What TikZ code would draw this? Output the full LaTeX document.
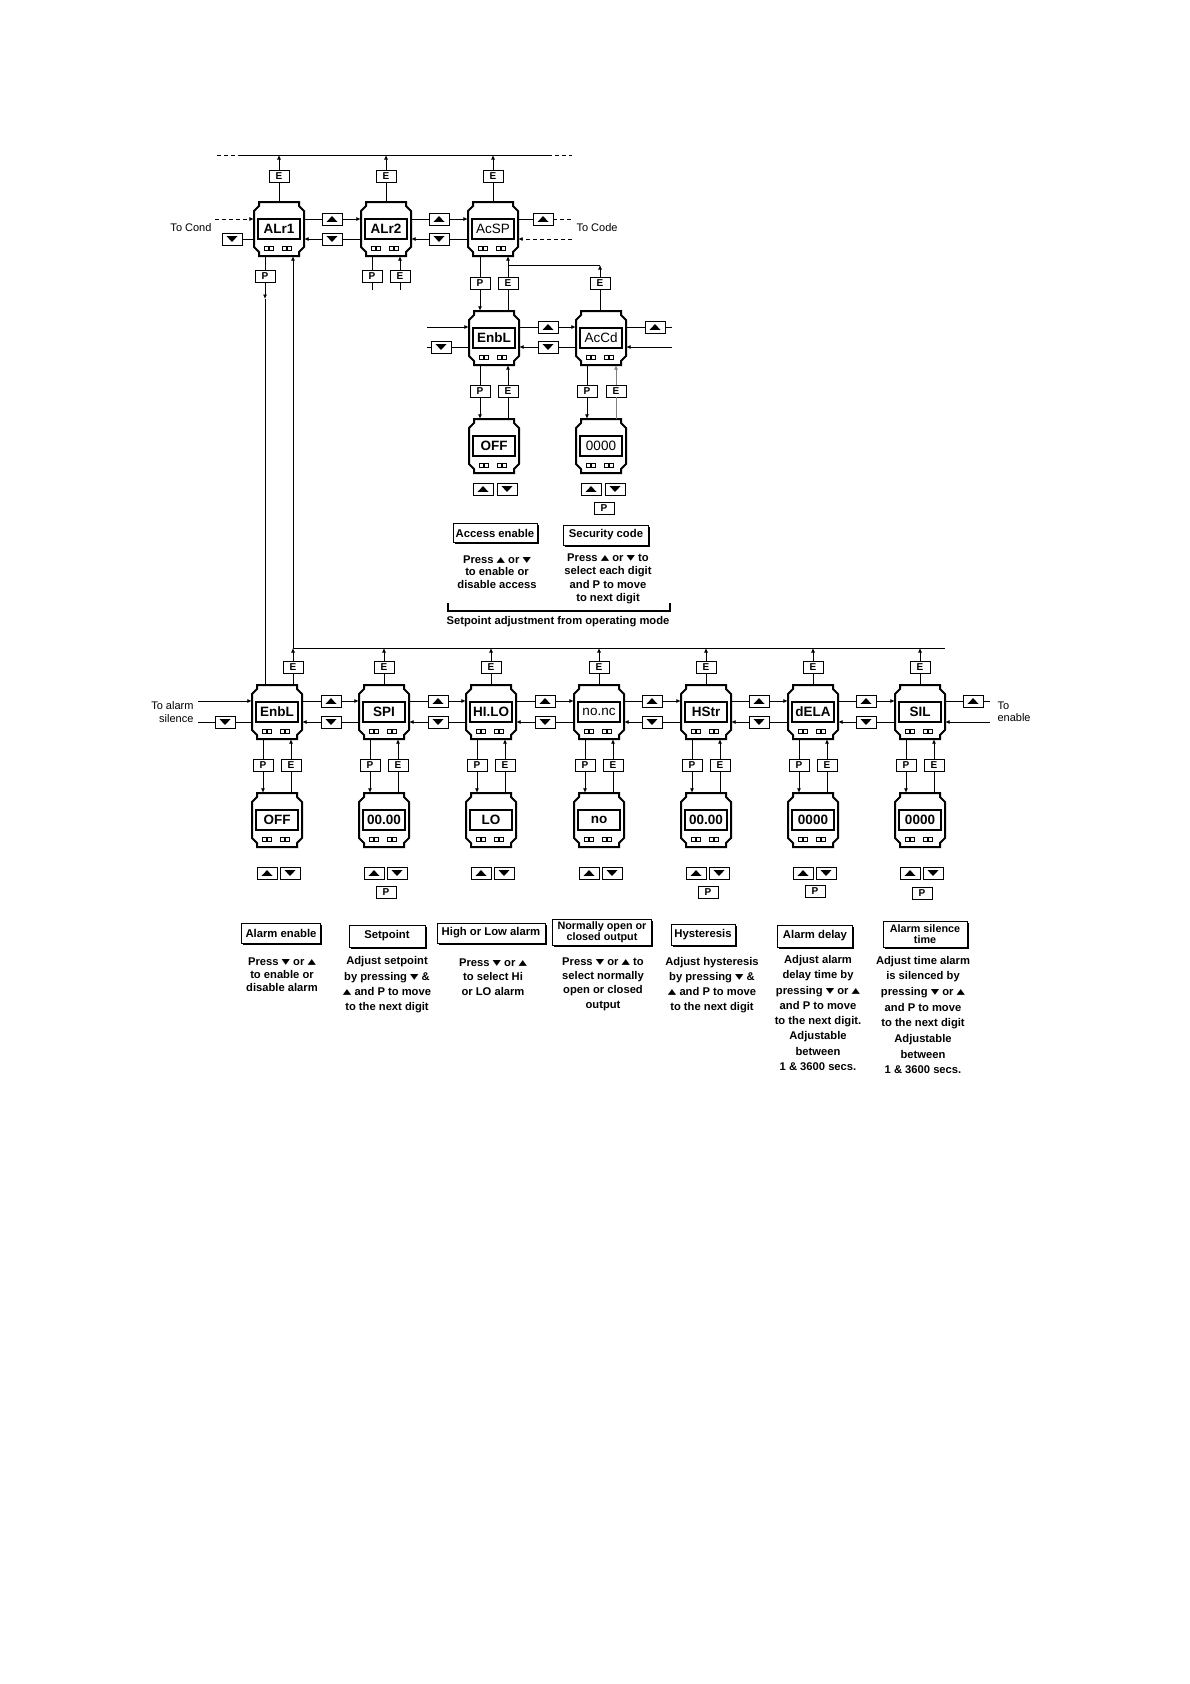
\documentclass[tikz,border=0pt]{standalone}
\usepackage{fontspec}
\setmainfont{Liberation Sans}
\newfontfamily\symfont{DejaVu Sans}
\usetikzlibrary{arrows.meta,shadows}

\newcommand{\tup}{{\symfont\scalebox{1.5}[1.05]{▴}}}
\newcommand{\tdn}{{\symfont\scalebox{1.5}[1.05]{▾}}}

\tikzset{
  casing/.style={line width=2pt},
  window/.style={line width=1.1pt},
  wire/.style={line width=0.8pt},
  into/.style={wire, -{Latex[length=4.5pt,width=4pt]}},
  keybox/.style={draw, fill=white, line width=0.8pt, minimum width=20pt,
    minimum height=12pt, inner sep=0pt, font=\bfseries\fontsize{10}{10}\selectfont,
    drop shadow={shadow xshift=1.4pt, shadow yshift=-1.4pt, opacity=1, fill=black}},
  upkey/.style={keybox, path picture={\fill[black] ([xshift=-5.5pt,yshift=-2.8pt]path picture bounding box.center)
    -- ++(11pt,0pt) -- ++(-5.5pt,5.6pt) -- cycle;}},
  dnkey/.style={keybox, path picture={\fill[black] ([xshift=-5.5pt,yshift=2.8pt]path picture bounding box.center)
    -- ++(11pt,0pt) -- ++(-5.5pt,-5.6pt) -- cycle;}},
  unitbox/.style={minimum width=50pt, minimum height=54pt, inner sep=0pt,
    font=\bfseries\fontsize{13.5}{13.5}\selectfont},
  capbox/.style={draw, fill=white, line width=0.8pt, inner sep=0pt, align=center,
    font=\bfseries\fontsize{11.3}{12}\selectfont,
    drop shadow={shadow xshift=1.6pt, shadow yshift=-1.6pt, opacity=1, fill=black}},
  notetext/.style={align=center, font=\bfseries\fontsize{11.2}{#1}\selectfont},
  notetext/.default=14,
  sidetext/.style={font=\fontsize{11}{12.5}\selectfont},
}

% one controller face: name, x, y, display text
\newcommand{\unitat}[4]{%
  \node[unitbox] (#1) at (#2,#3) {#4};
  \begin{scope}[shift={(#2,#3)}]
    \draw[casing] (-20,-27) -- (20,-27) -- (20,-23) -- (25,-18) -- (25,18)
      -- (20,23) -- (20,27) -- (-20,27) -- (-20,23) -- (-25,18) -- (-25,-18)
      -- (-20,-23) -- cycle;
    \draw[window] (-21,-10) rectangle (21,10);
    \foreach \sx in {-15,-9.5,3,8.5} \draw[line width=0.7pt] (\sx,17) rectangle ++(4,4);
  \end{scope}}

\begin{document}
\begin{tikzpicture}[x=1pt, y=-1pt]
    \useasboundingbox (0,0) rectangle (1190,1684);

    % alarm menu row
    \unitat{alr1}{279}{229}{ALr1}
    \unitat{alr2}{386}{229}{ALr2}
    \unitat{acsp}{493}{229}{\mdseries AcSP}
    \node[keybox] (ea1) at (279,176) {E};
    \node[keybox] (ea2) at (386,176) {E};
    \node[keybox] (ea3) at (493,176) {E};
    \coordinate (busa0) at (217,155);
    \coordinate (busal) at (240,155);
    \coordinate (busar) at (548,155);
    \coordinate (busa9) at (572,155);
    \draw[wire] (busal) -- (busar);
    \draw[wire, dash pattern=on 4pt off 3pt] (busa0) -- (busal) (busar) -- (busa9);
    \draw[into] (alr1.north) -- (ea1) -- (alr1 |- busal);
    \draw[into] (alr2.north) -- (ea2) -- (alr2 |- busal);
    \draw[into] (acsp.north) -- (ea3) -- (acsp |- busal);

    \node[upkey] (ua12) at (332,219) {};
    \node[dnkey] (da12) at (332,239) {};
    \node[upkey] (ua23) at (439,219) {};
    \node[dnkey] (da23) at (439,239) {};
    \node[dnkey] (da01) at (232,239) {};
    \node[upkey] (ua34) at (543,219) {};
    \draw[into] (alr1.east |- ua12) -- (ua12) -- (alr2.west |- ua12);
    \draw[into] (alr2.west |- da12) -- (da12) -- (alr1.east |- da12);
    \draw[into] (alr2.east |- ua23) -- (ua23) -- (acsp.west |- ua23);
    \draw[into] (acsp.west |- da23) -- (da23) -- (alr2.east |- da23);
    \coordinate (cond1) at (215,219);
    \draw[into, dash pattern=on 4pt off 3pt] (cond1) -- (alr1.west |- cond1);
    \draw[wire] (da01) -- (alr1.west |- da01);
    \node[sidetext, anchor=east] (tocond) at (215,228) {To Cond};
    \coordinate (code1) at (572,219);
    \coordinate (code2) at (572,239);
    \draw[wire] (acsp.east |- ua34) -- (ua34);
    \draw[wire, dash pattern=on 4pt off 3pt] (ua34) -- (code1);
    \draw[into, dash pattern=on 4pt off 3pt] (code2) -- (acsp.east |- code2);
    \node[sidetext, anchor=west] (tocode) at (573,228) {To Code};

    % access row
    \unitat{enblb}{494}{338}{EnbL}
    \unitat{accd}{601}{338}{\mdseries AcCd}
    \unitat{offb}{494}{446}{OFF}
    \unitat{codeb}{601}{446}{\mdseries 0000}
    \node[keybox] (pa3) at (480,283) {P};
    \node[keybox] (ea3b) at (508,283) {E};
    \node[keybox] (eb2) at (600,283) {E};
    \coordinate (joinb) at (508,265);
    \coordinate (cornb) at (600,265);
    \draw[into] (acsp.south -| pa3) -- (pa3) -- (enblb.north -| pa3);
    \draw[into] (enblb.north -| ea3b) -- (ea3b) -- (acsp.south -| ea3b);
    \draw[into] (accd.north -| eb2) -- (eb2) -- (cornb);
    \draw[wire] (cornb) -- (joinb);

    \coordinate (lb1) at (427,327);
    \coordinate (lb2) at (427,347);
    \coordinate (rb1) at (672,327);
    \coordinate (rb2) at (672,347);
    \node[dnkey] (db0) at (441,347) {};
    \node[upkey] (ub12) at (548,327) {};
    \node[dnkey] (db12) at (548,347) {};
    \node[upkey] (ub23) at (655,327) {};
    \draw[into] (lb1) -- (enblb.west |- lb1);
    \draw[wire] (lb2) -- (db0) -- (enblb.west |- db0);
    \draw[into] (enblb.east |- ub12) -- (ub12) -- (accd.west |- ub12);
    \draw[into] (accd.west |- db12) -- (db12) -- (enblb.east |- db12);
    \draw[wire] (accd.east |- ub23) -- (ub23) -- (rb1);
    \draw[into] (rb2) -- (accd.east |- rb2);

    \node[keybox] (pb1) at (480,391) {P};
    \node[keybox] (eb1) at (508,391) {E};
    \node[keybox] (pb2) at (587,391) {P};
    \node[keybox] (eb3) at (616,391) {E};
    \draw[into] (enblb.south -| pb1) -- (pb1) -- (offb.north -| pb1);
    \draw[into] (offb.north -| eb1) -- (eb1) -- (enblb.south -| eb1);
    \draw[into] (accd.south -| pb2) -- (pb2) -- (codeb.north -| pb2);
    \draw[into, gray] (codeb.north -| eb3) -- (eb3) -- (accd.south -| eb3);
    \node[upkey] (ukb1) at (483,489) {};
    \node[dnkey] (dkb1) at (507,489) {};
    \node[upkey] (ukb2) at (591,489) {};
    \node[dnkey] (dkb2) at (615,489) {};
    \node[keybox] (pkb2) at (604,508) {P};

    \node[capbox, minimum width=84pt, minimum height=19pt] (capacc) at (495,533) {Access enable};
    \node[capbox, minimum width=85pt, minimum height=20pt] (capsec) at (606,535) {Security code};
    \node[notetext=12.5] (txtacc) at (497,572) {Press \tup{} or \tdn\\to enable or\\disable access};
    \node[notetext=13.5] (txtsec) at (608,579) {Press \tup{} or \tdn{} to\\select each digit\\and P to move\\to next digit};
    \coordinate (brl) at (448,611);
    \coordinate (brr) at (670,611);
    \draw[line width=1.4pt] (448,603) -- (brl) -- (brr) -- (670,603);
    \node[notetext] (txtset) at (558,622) {Setpoint adjustment from operating mode};

    % alarm settings row
    \coordinate (buscl) at (293,648);
    \coordinate (buscr) at (945,648);
    \draw[wire] (buscl) -- (buscr);
    \foreach \n/\cx/\ex/\shown/\val in {enbl/277/293/EnbL/OFF, spi/384/384/SPI/00.00,
        hilo/491/491/HI.LO/LO, nonc/599/599/\mdseries no.nc/no, hstr/706/706/HStr/00.00,
        dela/813/813/dELA/0000, sil/920/920/SIL/0000}{
      \unitat{\n}{\cx}{712}{\shown}
      \unitat{v\n}{\cx}{820}{\val}
      \node[keybox] (t\n) at (\ex,667) {E};
      \node[keybox] (p\n) at (\cx-14,765) {P};
      \node[keybox] (e\n) at (\cx+14,765) {E};
      \draw[into] (\n.north -| t\n) -- (t\n) -- (t\n |- buscl);
      \draw[into] (\n.south -| p\n) -- (p\n) -- (v\n.north -| p\n);
      \draw[into] (v\n.north -| e\n) -- (e\n) -- (\n.south -| e\n);
      \node[upkey] (ku\n) at (\cx-10,873) {};
      \node[dnkey] (kd\n) at (\cx+13,873) {};
    }
    \foreach \a/\b/\mx in {enbl/spi/331, spi/hilo/438, hilo/nonc/545,
        nonc/hstr/652, hstr/dela/759, dela/sil/866}{
      \node[upkey] (u\a) at (\mx,701) {};
      \node[dnkey] (d\a) at (\mx,722) {};
      \draw[into] (\a.east |- u\a) -- (u\a) -- (\b.west |- u\a);
      \draw[into] (\b.west |- d\a) -- (d\a) -- (\a.east |- d\a);
    }
    \node[keybox] (kpspi) at (386,892) {P};
    \node[keybox] (kphstr) at (708,892) {P};
    \node[keybox] (kpdela) at (815,891) {P};
    \node[keybox] (kpsil) at (922,893) {P};

    % links back to ALr1
    \node[keybox] (pa1) at (265,276) {P};
    \coordinate (tipa1) at (265,299);
    \draw[wire] (alr1.south -| pa1) -- (pa1);
    \draw[into] (pa1) -- (tipa1);
    \draw[wire] (tipa1) -- (enbl.north -| pa1);
    \draw[into] (buscl) -- (alr1.south -| buscl);
    \node[keybox] (pa2) at (372,276) {P};
    \node[keybox] (ea2b) at (400,276) {E};
    \coordinate (stubp2) at (372,290);
    \coordinate (stube2) at (400,290);
    \draw[wire] (alr2.south -| pa2) -- (pa2) -- (stubp2);
    \draw[into] (stube2) -- (ea2b) -- (alr2.south -| ea2b);

    % ends of the row
    \coordinate (sl1) at (198,701);
    \coordinate (sl2) at (198,722);
    \node[dnkey] (dc0) at (225,722) {};
    \draw[into] (sl1) -- (enbl.west |- sl1);
    \draw[wire] (sl2) -- (dc0) -- (enbl.west |- dc0);
    \node[sidetext, anchor=east, align=right] (toal) at (197,712) {To alarm\\silence};
    \coordinate (en1) at (990,701);
    \coordinate (en2) at (990,722);
    \node[upkey] (uc8) at (973,701) {};
    \draw[wire] (sil.east |- uc8) -- (uc8) -- (en1);
    \draw[into] (en2) -- (sil.east |- en2);
    \node[sidetext, anchor=west, align=left] (toen) at (994,712) {To\\enable};

    % captions
    \node[capbox, minimum width=79pt, minimum height=20pt] (cap1) at (281,933) {Alarm enable};
    \node[capbox, minimum width=76pt, minimum height=22pt] (cap2) at (387,936) {Setpoint};
    \node[capbox, minimum width=108pt, minimum height=20pt] (cap3) at (491,933) {High or Low alarm};
    \node[capbox, minimum width=99pt, minimum height=26pt, font=\bfseries\fontsize{10.8}{11.5}\selectfont] (cap4) at (602,932) {Normally open or\\closed output};
    \node[capbox, minimum width=64pt, minimum height=21pt] (cap5) at (703,935) {Hysteresis};
    \node[capbox, minimum width=75pt, minimum height=22pt] (cap6) at (815,936) {Alarm delay};
    \node[capbox, minimum width=84pt, minimum height=26pt, font=\bfseries\fontsize{10.8}{11.5}\selectfont] (cap7) at (925,934) {Alarm silence\\time};

    \node[notetext=13] (txt1) at (282,975) {Press \tdn{} or \tup\\to enable or\\disable alarm};
    \node[notetext=15.3] (txt2) at (387,985) {Adjust setpoint\\by pressing \tdn{} \&\\\tup{} and P to move\\to the next digit};
    \node[notetext=14.5] (txt3) at (493,977) {Press \tdn{} or \tup\\to select Hi\\or LO alarm};
    \node[notetext=14.3] (txt4) at (603,984) {Press \tdn{} or \tup{} to\\select normally\\open or closed\\output};
    \node[notetext=15] (txt5) at (712,985) {Adjust hysteresis\\by pressing \tdn{} \&\\\tup{} and P to move\\to the next digit};
    \node[notetext=15.3] (txt6) at (818,1013) {Adjust alarm\\delay time by\\pressing \tdn{} or \tup\\and P to move\\to the next digit.\\Adjustable\\between\\1 \& 3600 secs.};
    \node[notetext=15.7] (txt7) at (923,1015) {Adjust time alarm\\is silenced by\\pressing \tdn{} or \tup\\and P to move\\to the next digit\\Adjustable\\between\\1 \& 3600 secs.};
\end{tikzpicture}
\end{document}
